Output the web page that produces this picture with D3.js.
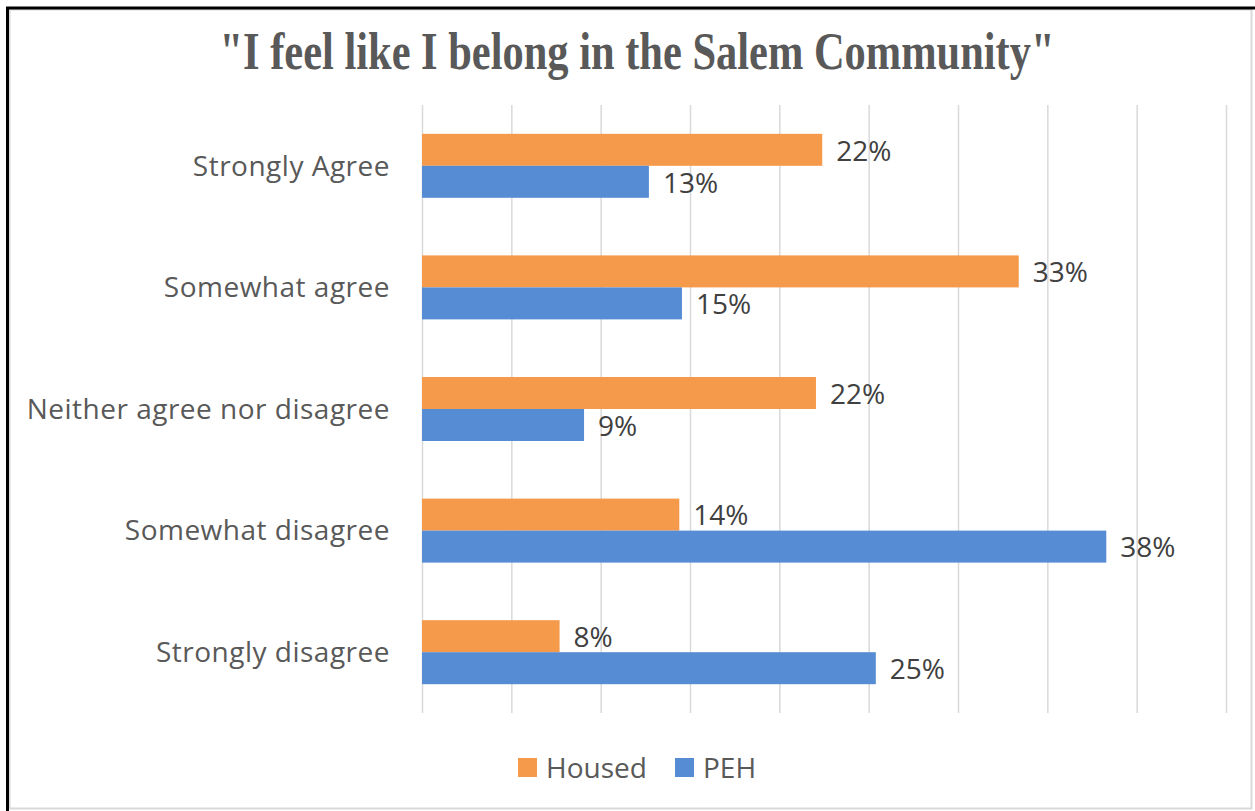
<!DOCTYPE html>
<html>
<head>
<meta charset="utf-8">
<script src="https://d3js.org/d3.v7.min.js"></script>
<style>
  body { margin: 0; background: #fff; }
</style>
</head>
<body>
<div id="chart"></div>
<script>
// data
var categories = ["Strongly Agree", "Somewhat agree", "Neither agree nor disagree", "Somewhat disagree", "Strongly disagree"];
var seriesNames = ["Housed", "PEH"];
var housed = [22.4, 33.4, 22.05, 14.4, 7.7];
var peh = [12.7, 14.55, 9.07, 38.3, 25.4];
var xTicks = [0, 5, 10, 15, 20, 25, 30, 35, 40, 45];
var colors = ["#F5994A", "#568CD3"];

var W = 1255, H = 811;
var margin = {top: 105, left: 422, right: W - 1226, bottom: H - 713};

var svg = d3.select("#chart")
    .append("svg")
    .attr("width", W)
    .attr("height", H);

// frame
svg.append("rect")
    .attr("x", 9.5).attr("y", 9.5)
    .attr("width", 1242).attr("height", 799)
    .attr("fill", "#fff")
    .attr("stroke", "#d9d9d9").attr("stroke-width", 2);
svg.append("path")
    .attr("d", "M7.5," + H + " L7.5,8 L" + W + ",8")
    .attr("fill", "none")
    .attr("stroke", "#000").attr("stroke-width", 3);

var x = d3.scaleLinear()
    .domain([0, 45])
    .range([margin.left, W - margin.right]);

var y = d3.scaleBand()
    .domain(categories)
    .range([margin.top, H - margin.bottom]);

var barH = 32;

// gridlines
svg.append("g")
    .attr("transform", "translate(0," + (H - margin.bottom) + ")")
    .call(d3.axisBottom(x).tickValues(xTicks).tickSize(-(H - margin.bottom - margin.top)).tickFormat(""))
    .call(function(g) { g.select(".domain").remove(); })
    .selectAll("line")
    .attr("stroke", "#d9d9d9")
    .attr("stroke-width", 1.5);

// title
svg.append("text")
    .attr("x", 637)
    .attr("y", 69)
    .attr("text-anchor", "middle")
    .attr("font-family", "'Liberation Serif', 'Times New Roman', serif")
    .attr("font-weight", "bold")
    .attr("font-size", 52)
    .attr("fill", "#595959")
    .attr("textLength", 835)
    .attr("lengthAdjust", "spacingAndGlyphs")
    .text('"I feel like I belong in the Salem Community"');

// category labels
svg.append("g")
    .selectAll("text")
    .data(categories)
    .enter()
    .append("text")
    .attr("x", 390)
    .attr("y", function(d) { return y(d) + y.bandwidth() / 2; })
    .attr("dy", "0.35em")
    .attr("text-anchor", "end")
    .attr("font-family", "'Open Sans', sans-serif")
    .attr("font-size", 28)
    .attr("letter-spacing", 0.5)
    .attr("fill", "#595959")
    .text(function(d) { return d; });

var series = [housed, peh];
series.forEach(function(vals, si) {
    var g = svg.append("g");
    g.selectAll("rect")
        .data(vals)
        .enter()
        .append("rect")
        .attr("x", x(0))
        .attr("y", function(d, i) { return y(categories[i]) + y.bandwidth() / 2 - barH + si * barH; })
        .attr("width", function(d) { return x(d) - x(0); })
        .attr("height", barH)
        .attr("fill", colors[si]);
    g.selectAll("text")
        .data(vals)
        .enter()
        .append("text")
        .attr("x", function(d) { return x(d) + 14; })
        .attr("y", function(d, i) { return y(categories[i]) + y.bandwidth() / 2 - barH / 2 + si * barH + 1; })
        .attr("dy", "0.35em")
        .attr("font-family", "'Open Sans', sans-serif")
        .attr("font-size", 28)
        .attr("fill", "#404040")
        .text(function(d) { return Math.round(d) + "%"; });
});

// legend
var legX = [518, 675];
var leg = svg.append("g");
seriesNames.forEach(function(name, i) {
    leg.append("rect")
        .attr("x", legX[i]).attr("y", 758)
        .attr("width", 19).attr("height", 19)
        .attr("fill", colors[i]);
    leg.append("text")
        .attr("x", legX[i] + 28)
        .attr("y", 768)
        .attr("dy", "0.35em")
        .attr("font-family", "'Open Sans', sans-serif")
        .attr("font-size", 28)
        .attr("fill", "#595959")
        .text(name);
});
</script>
</body>
</html>
